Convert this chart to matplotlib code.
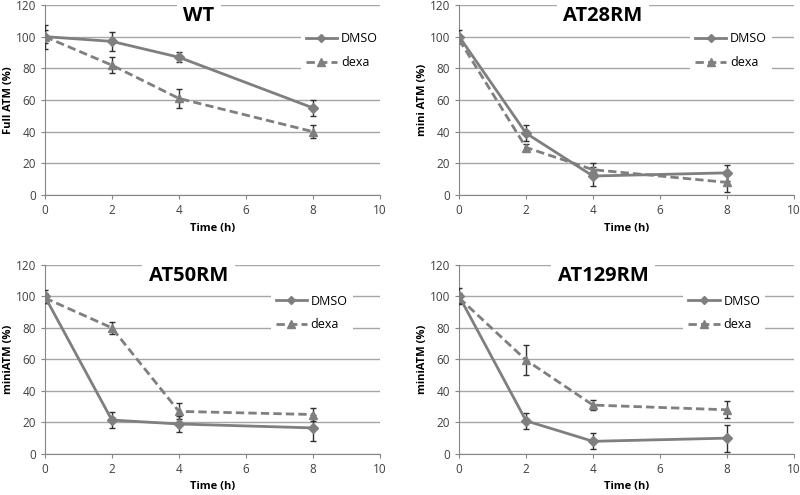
import matplotlib.pyplot as plt
import numpy as np

plt.rcParams['font.family'] = ['Open Sans', 'DejaVu Sans']

tiempos = np.array([0, 2, 4, 8])

titulos = ['WT', 'AT28RM', 'AT50RM', 'AT129RM']
ylabels = ['Full ATM (%)', 'mini ATM (%)', 'miniATM (%)', 'miniATM (%)']

dmso = [[100, 97, 87, 55],
        [100, 39, 12, 14],
        [100, 21.5, 19, 16.5],
        [100, 21, 8, 10]]
dmso_err = [[7.5, 6, 3, 5],
            [4, 5, 6, 5],
            [4, 5, 5, 8],
            [5, 5, 5, 8.5]]
dexa = [[100, 82, 61, 40],
        [98, 30, 16, 8],
        [99, 80, 27, 25],
        [99, 59.5, 31, 28]]
dexa_err = [[4, 5, 6, 4],
            [2, 2, 4, 6],
            [3, 4, 5, 4],
            [3, 9.5, 3, 5.5]]

gris = '#7f7f7f'

fig = plt.figure(figsize=(8, 4.95), dpi=100)
posiciones = [[0.056, 0.606, 0.419, 0.384],
              [0.574, 0.606, 0.418, 0.384],
              [0.056, 0.083, 0.419, 0.382],
              [0.574, 0.083, 0.418, 0.382]]
# donde va la leyenda (borde izquierdo, centro vertical) en fraccion de ejes
pos_leyenda = [(0.745, 0.76), (0.672, 0.76), (0.655, 0.745), (0.652, 0.745)]
pos_titulo = [4.6, 4.3, 4.3, 4.3]

for i in range(4):
    ax = fig.add_axes(posiciones[i])
    ax.errorbar(tiempos, dmso[i], yerr=dmso_err[i], color=gris, lw=2,
                marker='D', ms=5, ecolor='#303030', elinewidth=1, capsize=2.3,
                label='DMSO', zorder=3)
    ax.errorbar(tiempos, dexa[i], yerr=dexa_err[i], color=gris, lw=2, ls='--',
                dashes=(3, 1.5), marker='^', ms=6, ecolor='#303030', elinewidth=1,
                capsize=2.3, label='dexa', zorder=3)
    ax.set_xlim(0, 10)
    ax.set_ylim(0, 120)
    ax.set_xticks([0, 2, 4, 6, 8, 10])
    ax.set_yticks(range(0, 121, 20))
    ax.tick_params(labelsize=8.5, colors='#404040', length=3, color='#868686')
    ax.yaxis.grid(True, color='#a6a6a6', lw=1)
    ax.set_axisbelow(True)
    for s in ['top', 'right']:
        ax.spines[s].set_visible(False)
    for s in ['left', 'bottom']:
        ax.spines[s].set_color('#868686')
    ax.set_xlabel('Time (h)', fontsize=8, fontweight='bold', labelpad=4)
    ax.set_ylabel(ylabels[i], fontsize=8, fontweight='bold', labelpad=1)
    ax.text(pos_titulo[i], 113, titulos[i], ha='center', va='center',
            fontsize=14.5, fontweight='bold',
            bbox=dict(facecolor='white', edgecolor='none', pad=5))
    handles, labels = ax.get_legend_handles_labels()
    handles = [h[0] for h in handles]
    ley = ax.legend(handles, labels, loc='center left', bbox_to_anchor=pos_leyenda[i],
                    frameon=True, fontsize=9, handlelength=2.5, handletextpad=0.3,
                    labelspacing=0.85, borderpad=0.4, markerscale=0.9)
    ley.get_frame().set_edgecolor('none')
    ley.get_frame().set_alpha(1)

fig.savefig('out.png')
